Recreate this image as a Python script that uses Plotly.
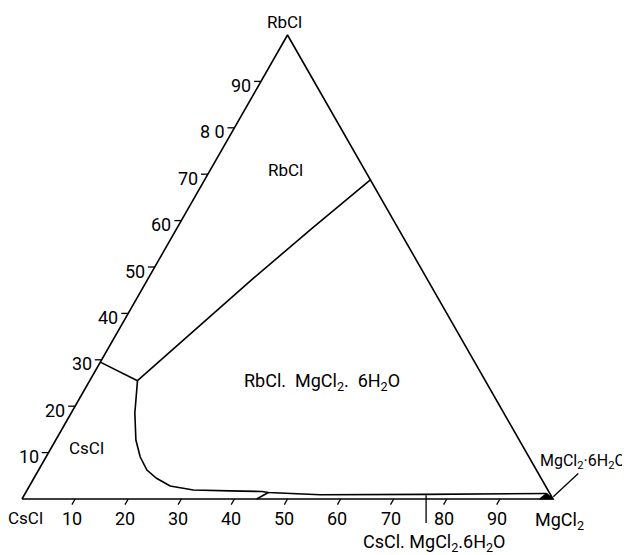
import plotly.graph_objects as go

# ---------------- data: compositions in mass % (RbCl, MgCl2); CsCl = 100 - RbCl - MgCl2
rbcl_ticks = [10, 20, 30, 40, 50, 60, 70, 80, 90]
rbcl_tick_labels = ["10", "20", "30", "40", "50", "60", "70", "8 0", "90"]
mgcl2_ticks = [10, 20, 30, 40, 50, 60, 70, 80, 90]
mgcl2_tick_labels = ["10", "20", "30", "40", "50", "60", "70", "80", "90"]

# triangle corners: CsCl, MgCl2, RbCl
corner_rbcl = [0, 0, 100, 0]
corner_mgcl2 = [0, 100, 0, 0]

# CsCl | RbCl field boundary
b1_rbcl = [29.5, 25.5]
b1_mgcl2 = [0.0, 9.0]
# RbCl | RbCl.MgCl2.6H2O boundary
b2_rbcl = [25.5, 36.5, 47.6, 58.2, 68.8]
b2_mgcl2 = [9.0, 14.3, 19.8, 25.4, 31.2]
# CsCl (then CsCl.MgCl2.6H2O) | RbCl.MgCl2.6H2O boundary
b3_rbcl = [25.5, 18.5, 12.7, 9.1, 6.25, 4.46, 2.8, 1.94, 1.75, 1.62, 1.4, 0.9, 1.0, 1.08, 1.2]
b3_mgcl2 = [9.0, 12.0, 15.1, 17.7, 20.4, 23.1, 26.5, 31.3, 38.3, 44.4, 45.7, 55.7, 75.4, 89.5, 98.2]
# CsCl | CsCl.MgCl2.6H2O boundary
b4_rbcl = [0.0, 1.4]
b4_mgcl2 = [44.2, 45.7]
# MgCl2.6H2O field (tiny, at the MgCl2 corner)
b5_rbcl = [1.2, 0.0, 0.0, 1.2]
b5_mgcl2 = [98.2, 97.5, 100.0, 98.2]


def to_xy(rb, mg):
    xs, ys = [], []
    for r, m in zip(rb, mg):
        if r is None:
            xs.append(None); ys.append(None)
        else:
            xs.append(m + r / 2.0)
            ys.append(r)
    return xs, ys


FONT = "Roboto, sans-serif"
LW = 1.6
fig = go.Figure()


def add_line(rb, mg, width=LW, fill=None):
    x, y = to_xy(rb, mg)
    fig.add_trace(go.Scatter(x=x, y=y, mode="lines", line=dict(color="black", width=width),
                             fill=fill, fillcolor="black" if fill else None,
                             hoverinfo="skip", showlegend=False))


add_line(corner_rbcl, corner_mgcl2)
add_line(b1_rbcl, b1_mgcl2)
add_line(b2_rbcl, b2_mgcl2)
add_line(b3_rbcl, b3_mgcl2)
add_line(b4_rbcl, b4_mgcl2)
add_line(b5_rbcl, b5_mgcl2, width=1.2, fill="toself")

# tick marks (outside, along the grid-line direction)
t_rb, t_mg = [], []
for v in rbcl_ticks:
    t_rb += [v, v, None]
    t_mg += [0, -1.3, None]
for v in mgcl2_ticks:
    t_rb += [0, -1.2, None]
    t_mg += [v, v, None]
add_line(t_rb, t_mg, width=1.3)

ann = []
for v, lab in zip(rbcl_ticks, rbcl_tick_labels):
    x, y = to_xy([v], [-1.3])
    ann.append(dict(x=x[0], y=y[0], text=lab, xanchor="right", yanchor="middle",
                    xshift=-1, yshift=-4, size=18))
for v, lab in zip(mgcl2_ticks, mgcl2_tick_labels):
    x, y = to_xy([-1.2], [v])
    ann.append(dict(x=x[0], y=y[0], text=lab, xanchor="center", yanchor="middle",
                    xshift=0, yshift=-14, size=18))

# corner labels
ann.append(dict(x=0, y=0, text="CsCl", xanchor="center", yanchor="middle", xshift=3, yshift=-19))
ann.append(dict(x=100, y=0, text="MgCl<sub>2</sub>", xanchor="center", yanchor="middle", xshift=6,
                yshift=-22, size=18))
ann.append(dict(x=50, y=100, text="RbCl", xanchor="center", yanchor="middle", xshift=-3, yshift=13))


def lab(rb, mg, text, **kw):
    x, y = to_xy([rb], [mg])
    d = dict(x=x[0], y=y[0], text=text)
    d.update(kw)
    ann.append(d)


# field labels (placed by composition)
lab(70.9, 14.1, "RbCl", xanchor="center", yanchor="middle")
lab(11.0, 6.7, "CsCl", xanchor="center", yanchor="middle")
lab(25.2, 28.9, "RbCl.&nbsp; MgCl<sub>2</sub>.&nbsp; 6H<sub>2</sub>O", xanchor="left", yanchor="middle",
    yshift=0, size=18)
lab(0, 75.7, "CsCl. MgCl<sub>2</sub>.6H<sub>2</sub>O", xanchor="center", yanchor="middle", xshift=10,
    yshift=-44, size=18)
lab(8.0, 110.1, "MgCl<sub>2</sub>·6H<sub>2</sub>O", xanchor="right", yanchor="middle", xshift=-1,
    size=16)

for a in ann:
    a.setdefault("showarrow", False)
    size = a.pop("size", 17)
    a["font"] = dict(family=FONT, size=size, color="black")
fig.update_layout(annotations=ann)

# leader lines to labels
lx, ly = to_xy([0.8, -5.2], [75.7, 78.7])
fig.add_trace(go.Scatter(x=lx, y=ly, mode="lines", line=dict(color="black", width=1.3),
                         hoverinfo="skip", showlegend=False))
mx, my = to_xy([0.5, 5.5], [99.8, 102.0])
fig.add_trace(go.Scatter(x=mx, y=my, mode="lines", line=dict(color="black", width=1.3),
                         hoverinfo="skip", showlegend=False))

# the page body has an 8 px margin, so the figure is 8 px smaller than the window
fig.update_layout(
    width=622, height=547,
    margin=dict(l=0, r=0, t=0, b=0),
    paper_bgcolor="white", plot_bgcolor="white",
    xaxis=dict(range=[-2.637, 114.50], visible=False, fixedrange=True),
    yaxis=dict(range=[-12.07, 105.82], visible=False, fixedrange=True),
)
fig.write_html("out.html")
